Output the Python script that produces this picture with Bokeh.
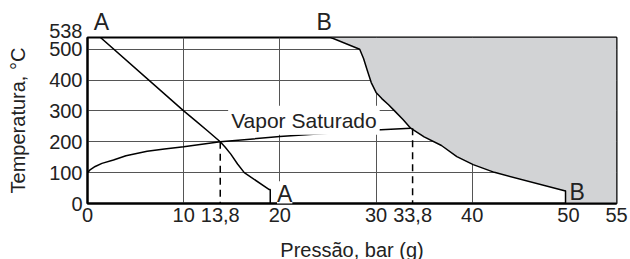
from bokeh.plotting import figure
from bokeh.models import Range1d, FixedTicker, Label, LinearAxis
from bokeh.embed import file_html
from bokeh.resources import INLINE

FONT = "Liberation Sans"

# ---- data (pressure bar(g), temperature degC) ----
x_ticks = [0, 10, 13.8, 20, 30, 33.8, 40, 50, 55]
x_tick_labels = ["0", "10", "13,8", "20", "30", "33,8", "40", "50", "55"]
y_ticks = [0, 100, 200, 300, 400, 500, 538]
y_tick_labels = ["0", "100", "200", "300", "400", "500", "538"]
x_grid = [10, 20, 30, 40]
y_grid = [100, 200, 300, 400, 500]

top_letter_p = [1.45, 24.6]
top_letter_text = ["A", "B"]

curve_a_p = [1.35, 10.0, 11.25, 12.5, 13.8, 14.3, 14.9, 15.6, 16.3, 18.9, 19.0, 19.0]
curve_a_t = [538, 300, 268, 235, 200, 183, 160, 128, 100, 45, 45, 0]

curve_b_p = [25.3, 28.3, 28.7, 29.1, 29.5, 30.0, 30.6, 31.3, 31.9, 32.8, 33.6, 35.0,
             36.8, 38.4, 40.1, 42.3, 49.6, 49.7, 49.7]
curve_b_t = [538, 500, 470, 430, 392, 360, 340, 320, 301, 272, 244, 216,
             188, 152, 126, 101, 41, 41, 0]

sat_p = [0, 0.3, 0.8, 1.5, 2.7, 4.0, 6.2, 8.0, 10.0, 13.8, 20.0, 25.0, 30.0, 33.6]
sat_t = [100, 110, 120, 130, 141, 155, 169, 177, 184, 200, 217, 228, 238, 244]

dash1_p = [13.8, 13.8]
dash1_t = [200, 0]
dash2_p = [33.8, 33.8]
dash2_t = [244, 0]

x_min, x_max = 0, 55
y_min, y_max = 0, 538

p = figure(width=630, height=264, output_backend="svg", toolbar_location=None,
           x_range=Range1d(x_min, x_max), y_range=Range1d(y_min, y_max),
           min_border_left=87, min_border_right=14, min_border_top=37,
           min_border_bottom=61)
p.background_fill_color = "white"
p.border_fill_color = "white"
p.outline_line_color = "black"
p.outline_line_width = 2

# grid
p.xgrid.ticker = FixedTicker(ticks=x_grid)
p.ygrid.ticker = FixedTicker(ticks=y_grid)
for g in (p.xgrid, p.ygrid):
    g.grid_line_color = "#555555"
    g.grid_line_width = 1

# shaded superheated region to the right of curve B
patch_x = curve_b_p + [x_max, x_max]
patch_y = curve_b_t + [y_min, y_max]
p.patch(patch_x, patch_y, fill_color="#d2d3d5", line_color=None)

p.line(curve_b_p, curve_b_t, line_color="black", line_width=1.5)
p.line(curve_a_p, curve_a_t, line_color="black", line_width=1.5)
p.line(sat_p, sat_t, line_color="black", line_width=1.5)
p.line(dash1_p, dash1_t, line_color="black", line_width=1.5, line_dash="7 5")
p.line(dash2_p, dash2_t, line_color="black", line_width=1.5, line_dash="7 5")

bottom = p.below[0]
left = p.left[0]

# top axis carrying the A / B end letters
top_ax = LinearAxis(ticker=FixedTicker(ticks=top_letter_p),
                    major_label_overrides=dict(zip(top_letter_p, top_letter_text)))
p.add_layout(top_ax, "above")

# axes
bottom.ticker = FixedTicker(ticks=x_ticks)
bottom.major_label_overrides = dict(zip(x_ticks, x_tick_labels))
left.ticker = FixedTicker(ticks=y_ticks)
ov = dict(zip(y_ticks, y_tick_labels))
ov[538] = y_tick_labels[-1] + "\n"   # second empty line lifts 538 clear of 500
left.major_label_overrides = ov
left.major_label_text_line_height = 0.55
for ax in (bottom, left, top_ax):
    ax.axis_line_color = "black"
    ax.axis_line_width = 2
    ax.major_tick_line_color = None
    ax.minor_tick_line_color = None
    ax.major_tick_out = 0
    ax.major_tick_in = 0
    ax.minor_tick_out = 0
    ax.minor_tick_in = 0
    ax.major_label_text_font = FONT
    ax.major_label_text_font_size = "20px"
    ax.major_label_text_color = "#222222"
    ax.axis_label_text_font = FONT
    ax.axis_label_text_font_size = "20px"
    ax.axis_label_text_font_style = "normal"
    ax.axis_label_text_color = "#222222"
top_ax.axis_line_color = None
top_ax.major_label_text_font_size = "23px"
top_ax.major_label_standoff = 3

bottom.axis_label = "Pressão, bar (g)"
left.axis_label = "Temperatura, °C"
bottom.major_label_standoff = 4
left.major_label_standoff = 5
bottom.axis_label_standoff = 14
left.axis_label_standoff = 17

def letter(x, y, txt, bg=None):
    lab = Label(x=x, y=y, text=txt, text_font=FONT,
                text_font_size="23px", text_color="#222222",
                text_align="center", text_baseline="alphabetic")
    if bg:
        lab.background_fill_color = bg
    p.add_layout(lab)

letter(20.5, 30, "A", bg="white")
letter(50.9, 37, "B")

p.add_layout(Label(x=22.5, y=270, text="Vapor Saturado", text_font=FONT,
                   text_font_size="21px", text_color="#222222",
                   text_align="center", text_baseline="alphabetic",
                   background_fill_color="white", padding=3))

open("out.html", "w").write(file_html(p, INLINE))
